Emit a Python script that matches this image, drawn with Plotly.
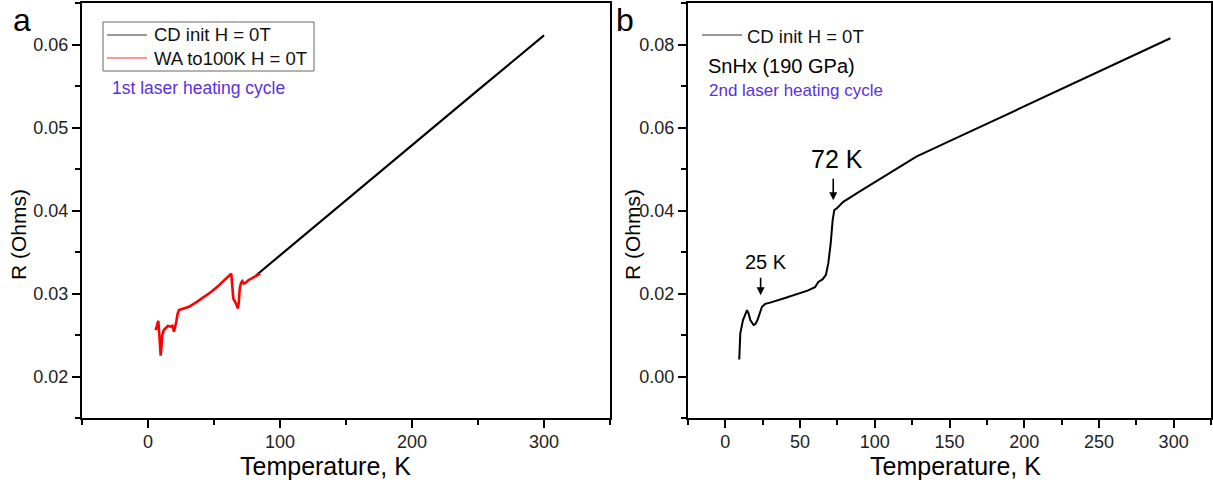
import plotly.graph_objects as go

W, H = 1213, 486

# ---------------- data ----------------
# panel a
a_cd_T = [82, 100, 125, 150, 175, 200, 225, 250, 275, 300]
a_cd_R = [0.0322, 0.0346, 0.0379, 0.0412, 0.0446, 0.0479, 0.0512, 0.0545, 0.0578, 0.0611]

a_wa_T = [5.8, 7.0, 7.8, 8.6, 9.6, 10.3, 10.8, 12.0, 13.4, 15.0, 17.0, 18.4, 19.7, 20.5, 21.4,
          22.5, 23.5, 27.0, 31.0, 37.0, 43.7, 48.0, 53.8, 58.0, 63.1, 63.8, 64.6, 66.0, 68.2,
          68.8, 69.5, 70.5, 71.4, 72.5, 74.0, 76.0, 79.0, 82.3, 85.0]
a_wa_R = [0.0256, 0.0262, 0.0267, 0.0250, 0.0225, 0.0238, 0.0250, 0.0256, 0.0259, 0.0261,
          0.0260, 0.0261, 0.0254, 0.0259, 0.0266, 0.0276, 0.0280, 0.0282, 0.0284, 0.0290,
          0.0297, 0.0302, 0.0310, 0.0316, 0.0324, 0.0310, 0.0294, 0.0290, 0.0282, 0.0290,
          0.0306, 0.0313, 0.0315, 0.0312, 0.0313, 0.0316, 0.0319, 0.0322, 0.0324]

# panel b
b_cd_T = [9.3, 10.0, 11.8, 13.0, 14.5, 15.5, 16.7, 18.9, 20.0, 21.5, 23.0, 24.5, 26.7, 30.0,
          38.9, 50.0, 55.0, 60.0, 62.2, 65.0, 67.3, 68.9, 70.5, 71.8, 72.9, 74.5, 78.9, 90.0,
          100.0, 110.0, 120.0, 127.8, 150.0, 200.0, 250.0, 297.8]
b_cd_R = [0.0041, 0.0104, 0.0136, 0.0148, 0.0160, 0.0152, 0.0136, 0.0124, 0.0126, 0.0136,
          0.0152, 0.0168, 0.0175, 0.0178, 0.0188, 0.0200, 0.0207, 0.0215, 0.0228, 0.0234,
          0.0245, 0.0273, 0.0321, 0.0377, 0.0401, 0.0405, 0.0421, 0.0446, 0.0468, 0.0490,
          0.0513, 0.0530, 0.0567, 0.0651, 0.0735, 0.0815]

a_xticks = [0, 100, 200, 300]
a_yticks = [0.02, 0.03, 0.04, 0.05, 0.06]
b_xticks = [0, 50, 100, 150, 200, 250, 300]
b_yticks = [0.00, 0.02, 0.04, 0.06, 0.08]

a_names = ["CD init H = 0T", "WA to100K H = 0T"]
b_names = ["CD init H = 0T"]

FONT = "Liberation Sans, Arial, sans-serif"
PURPLE = "#5b2fe3"


def px(x):
    return x / W


def py(y):
    return 1 - y / H


fig = go.Figure()
fig.add_trace(go.Scatter(x=a_cd_T, y=a_cd_R, mode="lines", name=a_names[0],
                         line=dict(color="black", width=2.2), xaxis="x", yaxis="y"))
fig.add_trace(go.Scatter(x=a_wa_T, y=a_wa_R, mode="lines", name=a_names[1],
                         line=dict(color="#ff0000", width=2.6), xaxis="x", yaxis="y"))
fig.add_trace(go.Scatter(x=b_cd_T, y=b_cd_R, mode="lines", name=b_names[0],
                         line=dict(color="black", width=2), xaxis="x2", yaxis="y2"))

axis_common = dict(showline=True, linecolor="black", linewidth=2, mirror=True,
                   ticks="outside", ticklen=8, tickwidth=1.5, tickcolor="black",
                   showgrid=False, zeroline=False,
                   tickfont=dict(family=FONT, size=18, color="#222"))

ydom = [py(418), py(3)]


def minor(d):
    return dict(dtick=d, tick0=0, ticklen=5, tickwidth=1.5, tickcolor="black",
                ticks="outside")


fig.update_layout(
    width=W, height=H, autosize=False,
    margin=dict(l=0, r=0, t=0, b=0),
    paper_bgcolor="white", plot_bgcolor="white",
    font=dict(family=FONT, color="black"),
    showlegend=False,
    xaxis=dict(domain=[px(82), px(610)], range=[-50, 350], tickvals=a_xticks,
               minor=minor(50), anchor="y", ticklabelstandoff=-2, **axis_common),
    yaxis=dict(domain=ydom, range=[0.015, 0.065], tickvals=a_yticks, tickformat=".2f",
               minor=minor(0.005), anchor="x", **axis_common),
    xaxis2=dict(domain=[px(688), px(1211)], range=[-25, 325], tickvals=b_xticks,
                minor=minor(25), anchor="y2", ticklabelstandoff=-2, **axis_common),
    yaxis2=dict(domain=ydom, range=[-0.01, 0.09], tickvals=b_yticks, tickformat=".2f",
                minor=minor(0.01), anchor="x2", **axis_common),
)

shapes = []
ann = []


def text(t, x, y, size, color="black", xanchor="center", angle=0, yanchor="middle"):
    ann.append(dict(text=t, x=px(x), y=py(y), xref="paper", yref="paper",
                    xanchor=xanchor, yanchor=yanchor, textangle=angle,
                    showarrow=False, font=dict(family=FONT, size=size, color=color)))


# legend of panel a (boxed)
shapes.append(dict(type="rect", xref="paper", yref="paper", x0=px(103), x1=px(314),
                   y0=py(71), y1=py(22), line=dict(color="#666", width=1),
                   fillcolor="white", layer="above"))
for i, (nm, col) in enumerate(zip(a_names, ["#333333", "#ff3030"])):
    yy = 35 + 23 * i
    shapes.append(dict(type="line", xref="paper", yref="paper", x0=px(107), x1=px(147),
                       y0=py(yy), y1=py(yy), line=dict(color=col, width=1.2), layer="above"))
    text(nm, 152, yy, 18.5, "#111", xanchor="left")

# legend of panel b (no box)
shapes.append(dict(type="line", xref="paper", yref="paper", x0=px(702), x1=px(742),
                   y0=py(35), y1=py(35), line=dict(color="#333333", width=1.2)))
text(b_names[0], 745, 36, 18.5, "#111", xanchor="left")

# panel labels (anchored at the top edge so they are not clipped)
text("a", 22, 0, 32, yanchor="top")
text("b", 625, 0, 32, yanchor="top")
# axis titles
text("Temperature, K", 325, 466, 25)
text("Temperature, K", 955, 466, 25)
text("R (Ohms)", 18, 235, 21, angle=-90)
text("R (Ohms)", 632, 235, 21, angle=-90)
# notes
text("1st laser heating cycle", 110, 88, 17.5, PURPLE, xanchor="left")
text("SnHx (190 GPa)", 706, 66, 20, xanchor="left")
text("2nd laser heating cycle", 707, 91, 17, PURPLE, xanchor="left")

# transition markers (data coordinates of panel b)
ann.append(dict(text="72 K", x=74.5, y=0.0524, xref="x2", yref="y2", showarrow=False,
                font=dict(family=FONT, size=25, color="black")))
ann.append(dict(text="", x=72.2, y=0.0425, xref="x2", yref="y2", showarrow=True,
                ax=0, ay=-23, arrowhead=2, arrowsize=1, arrowwidth=1.6, arrowcolor="black"))
ann.append(dict(text="25 K", x=27.2, y=0.0277, xref="x2", yref="y2", showarrow=False,
                font=dict(family=FONT, size=20, color="black")))
ann.append(dict(text="", x=23.6, y=0.0196, xref="x2", yref="y2", showarrow=True,
                ax=0, ay=-19, arrowhead=2, arrowsize=1, arrowwidth=1.6, arrowcolor="black"))

fig.update_layout(annotations=ann, shapes=shapes)
fig.write_html("out.html")
